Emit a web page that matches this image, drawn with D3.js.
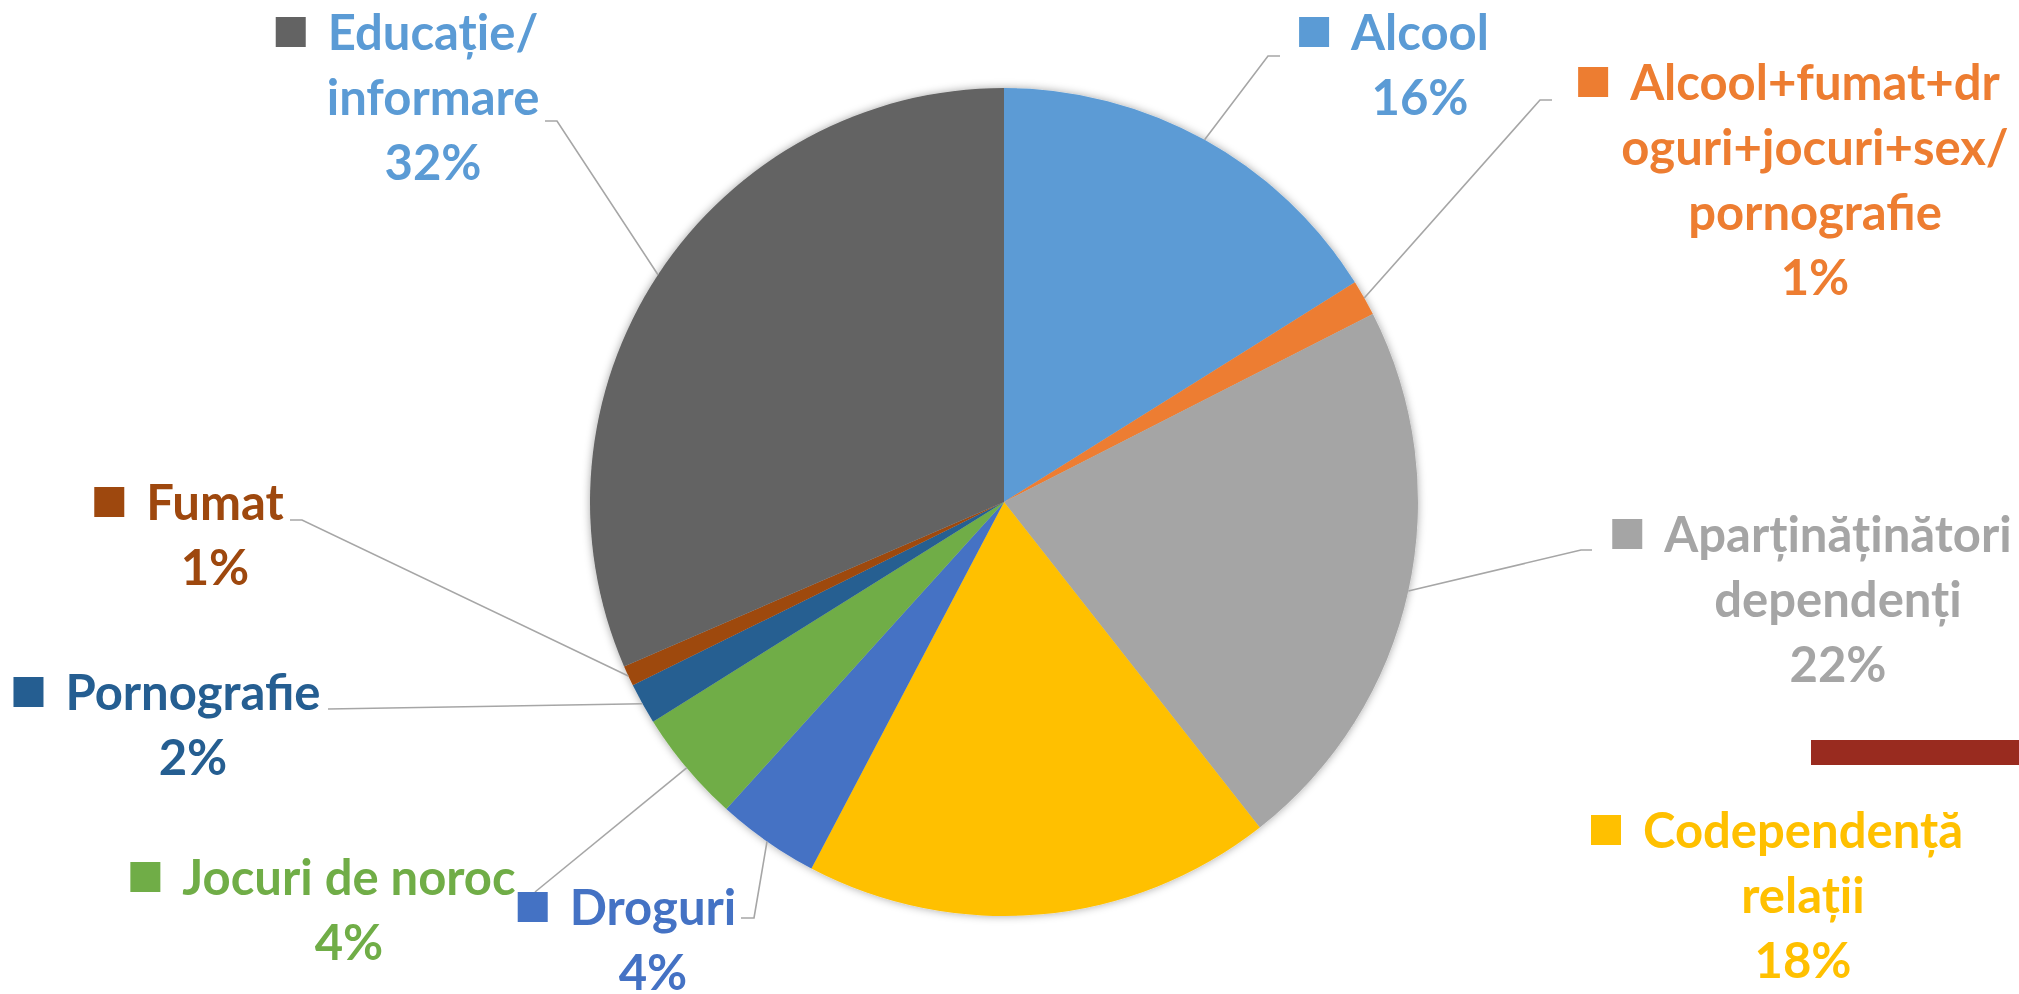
<!DOCTYPE html>
<html>
<head>
<meta charset="utf-8">
<script src="https://cdn.jsdelivr.net/npm/d3@7"></script>
<style>
  html, body { margin: 0; padding: 0; background: #ffffff; }
  svg { display: block; }
  text { font-family: Lato, "Open Sans", sans-serif; font-weight: 700; }
</style>
</head>
<body>
<svg id="chart" width="2019" height="994"></svg>
<script>
// ---- data ----
const categories = [
  "Alcool",
  "Alcool+fumat+droguri+jocuri+sex/pornografie",
  "Aparținăținători dependenți",
  "Codependență relații",
  "Droguri",
  "Jocuri de noroc",
  "Pornografie",
  "Fumat",
  "Educație/ informare"
];
const values = [16.1, 1.4, 21.9, 18.3, 4.0, 4.4, 1.6, 0.8, 31.5];
const labelLines = [
  ["Alcool"],
  ["Alcool+fumat+dr", "oguri+jocuri+sex/", "pornografie"],
  ["Aparținăținători", "dependenți"],
  ["Codependență", "relații"],
  ["Droguri"],
  ["Jocuri de noroc"],
  ["Pornografie"],
  ["Fumat"],
  ["Educație/", "informare"]
];
const sliceColors = ["#5B9BD5", "#ED7D31", "#A5A5A5", "#FFC000", "#4472C4", "#70AD47", "#255E91", "#9E480E", "#636363"];
const textColors  = ["#5B9BD5", "#ED7D31", "#A5A5A5", "#FFC000", "#4472C4", "#70AD47", "#255E91", "#9E480E", "#5B9BD5"];

// ---- layout (label placement, leader bends) ----
const cx = 1004, cy = 502, R = 414;
const labelLayout = [
  { x: 1420, y: 50,  leader: [[1280, 56], [1268, 56]] },
  { x: 1815, y: 100, leader: [[1552, 100], [1540, 100]] },
  { x: 1838, y: 552, leader: [[1592, 550], [1581, 550]] },
  { x: 1803, y: 848, leader: null },
  { x: 653,  y: 925, leader: [[741, 918], [754, 918]] },
  { x: 349,  y: 895, leader: [[535, 892]] },
  { x: 193,  y: 710, leader: [[328, 709]] },
  { x: 215,  y: 520, leader: [[290, 520], [302, 520]] },
  { x: 433,  y: 50,  leader: [[545, 121], [557, 121]] }
];
const fontSize = 49, lineH = 65;

const svg = d3.select("#chart");
const defs = svg.append("defs");
const f = defs.append("filter").attr("id", "shadow")
  .attr("x", "-10%").attr("y", "-10%").attr("width", "120%").attr("height", "120%");
f.append("feDropShadow").attr("dx", 0).attr("dy", 0).attr("stdDeviation", 4)
  .attr("flood-color", "#000").attr("flood-opacity", 0.35);

const data = categories.map((c, i) => ({ name: c, value: values[i], i }));
const total = d3.sum(values);
const pie = d3.pie().value(d => d.value).sort(null).startAngle(0).endAngle(2 * Math.PI);
const arcs = pie(data);
const arc = d3.arc().innerRadius(0).outerRadius(R);
const edgeArc = d3.arc().innerRadius(R).outerRadius(R);

const g = svg.append("g").attr("transform", `translate(${cx},${cy})`);
g.append("g").attr("filter", "url(#shadow)")
  .selectAll("path").data(arcs).join("path")
  .attr("d", arc)
  .attr("fill", d => sliceColors[d.data.i]);

// leader lines
const lineGen = d3.line();
arcs.forEach(a => {
  const L = labelLayout[a.data.i];
  if (!L.leader) return;
  const c = edgeArc.centroid(a);
  const pts = L.leader.concat([[c[0] + cx, c[1] + cy]]);
  svg.append("path").attr("d", lineGen(pts))
    .attr("fill", "none").attr("stroke", "#A6A6A6").attr("stroke-width", 1.6);
});

// labels
arcs.forEach(a => {
  const i = a.data.i, L = labelLayout[i];
  const lines = labelLines[i].concat([Math.round(a.data.value / total * 100) + "%"]);
  const lg = svg.append("g");
  const texts = lg.selectAll("text").data(lines).join("text")
    .attr("x", L.x).attr("y", (d, k) => L.y + k * lineH)
    .attr("text-anchor", "middle")
    .attr("font-size", fontSize)
    .attr("fill", textColors[i])
    .text(d => d);
  const w = texts.nodes()[0].getComputedTextLength();
  lg.append("rect")
    .attr("x", L.x - w / 2 - 22 - 30).attr("y", L.y - 33)
    .attr("width", 30).attr("height", 30)
    .attr("fill", sliceColors[i]);
});

// decorative bar at right
svg.append("rect").attr("x", 1811).attr("y", 740).attr("width", 208).attr("height", 25).attr("fill", "#992B1F");
</script>
</body>
</html>
